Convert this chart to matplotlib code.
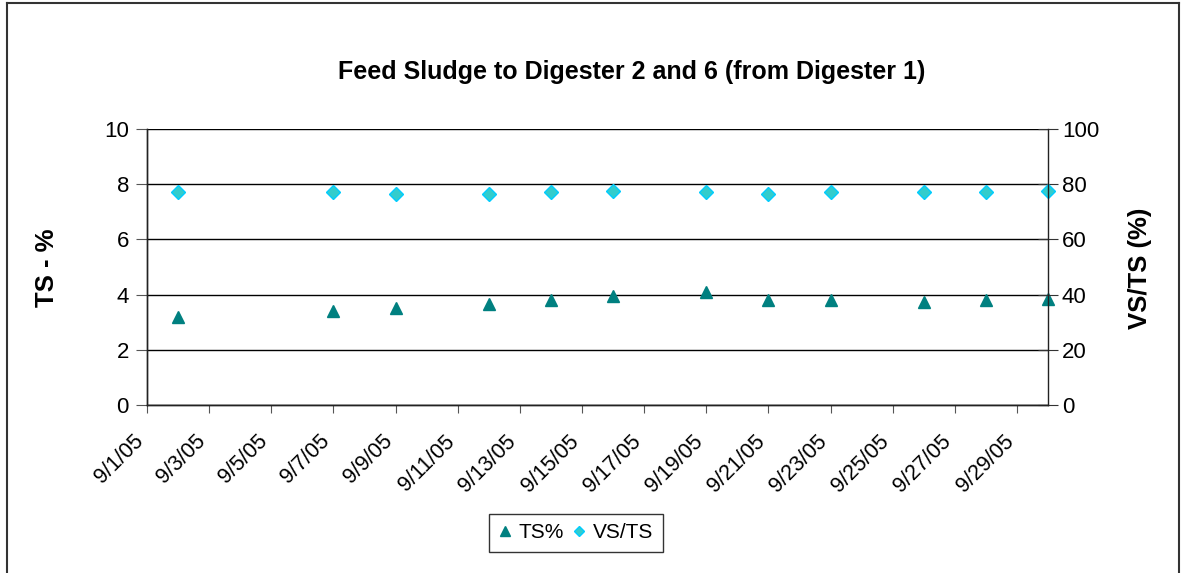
import datetime as dt
import matplotlib
matplotlib.use("Agg")
import matplotlib.pyplot as plt
import matplotlib.dates as mdates
import matplotlib.transforms as mtransforms
from matplotlib.ticker import FuncFormatter, MultipleLocator
from matplotlib.lines import Line2D

plt.rcParams['font.family'] = ['Liberation Sans', 'DejaVu Sans']

# ---- data ----
dates = ["2005-09-02", "2005-09-07", "2005-09-09", "2005-09-12", "2005-09-14",
         "2005-09-16", "2005-09-19", "2005-09-21", "2005-09-23", "2005-09-26",
         "2005-09-28", "2005-09-30"]
ts_pct = [3.2, 3.4, 3.5, 3.65, 3.8, 3.95, 4.1, 3.8, 3.8, 3.75, 3.8, 3.85]
vs_ts = [77.0, 77.0, 76.5, 76.5, 77.0, 77.5, 77.0, 76.5, 77.0, 77.0, 77.0, 77.5]
title = "Feed Sludge to Digester 2 and 6 (from Digester 1)"
left_label = "TS - %"
right_label = "VS/TS (%)"
series_names = ["TS%", "VS/TS"]

x = [dt.datetime.strptime(d, "%Y-%m-%d") for d in dates]

W, H = 1181, 573
fig = plt.figure(figsize=(W / 100, H / 100), dpi=100)
# outer chart border (left, top, right)
for xs, ys in [((7 / W, 7 / W), (0, 1 - 3 / H)),
               ((7 / W, 1179 / W), (1 - 3 / H, 1 - 3 / H)),
               ((1179 / W, 1179 / W), (1 - 3 / H, 0))]:
    fig.add_artist(Line2D(xs, ys, transform=fig.transFigure, color='#333333', linewidth=1.5))

L, R, T, B = 147, 1048, 129, 405
ax = fig.add_axes([L / W, 1 - B / H, (R - L) / W, (B - T) / H])
ax2 = ax.twinx()

ax.set_xlim(dt.datetime(2005, 9, 1), dt.datetime(2005, 9, 30))
ax.set_ylim(0, 10)
ax2.set_ylim(0, 100)
ax.yaxis.set_major_locator(MultipleLocator(2))
ax2.yaxis.set_major_locator(MultipleLocator(20))
ax.xaxis.set_major_locator(mdates.DayLocator(bymonthday=range(1, 32, 2)))
ax.xaxis.set_major_formatter(FuncFormatter(
    lambda v, p: (lambda d: f"{d.month}/{d.day}/{d:%y}")(mdates.num2date(v))))

ax.grid(axis='y', color='black', linewidth=1.0)
ax.set_axisbelow(True)
for a in (ax, ax2):
    a.spines['top'].set_visible(False)
    for s in ('left', 'right', 'bottom'):
        a.spines[s].set_color('#222222')
        a.spines[s].set_linewidth(1.0)
ax.spines['right'].set_visible(False)

ax.tick_params(axis='y', labelsize=16, length=8, direction='out', pad=5, color='#555555')
ax2.tick_params(axis='y', labelsize=16, length=14, direction='inout', pad=3, color='#333333')
ax.tick_params(axis='x', labelsize=15.5, length=6, direction='out', pad=9, color='#555555')
offset = mtransforms.ScaledTranslation(-14 / 100, -5 / 100, fig.dpi_scale_trans)
for lab in ax.get_xticklabels():
    lab.set_rotation(45)
    lab.set_ha('right')
    lab.set_rotation_mode('anchor')
    lab.set_transform(lab.get_transform() + offset)

h1, = ax.plot(x, ts_pct, linestyle='none', marker='^', markersize=9,
              color='#008080', clip_on=False, label=series_names[0])
h2, = ax2.plot(x, vs_ts, linestyle='none', marker='D', markersize=7,
               markerfacecolor='#33CCCC', markeredgecolor='#00CCFF', markeredgewidth=1,
               clip_on=False, label=series_names[1])

fig.text(47 / W, 1 - 268 / H, left_label, rotation=90, ha='center', va='center',
         fontsize=18.5, fontweight='bold')
fig.text(1140 / W, 1 - 268 / H, right_label, rotation=90, ha='center', va='center',
         fontsize=18.5, fontweight='bold')

fig.text(632 / W, 1 - 72 / H, title, ha='center', va='center', fontsize=18, fontweight='bold')

leg = fig.legend([h1, h2], series_names, loc='center', bbox_to_anchor=(576 / W, 1 - 533 / H),
                 ncol=2, fontsize=15, frameon=True, fancybox=False, shadow=False,
                 handlelength=0.6, handletextpad=0.35, columnspacing=0.45, borderpad=0.45,
                 markerscale=0.8)
leg.get_frame().set_edgecolor('black')
leg.get_frame().set_linewidth(1.0)

fig.savefig("out.png", dpi=100)
